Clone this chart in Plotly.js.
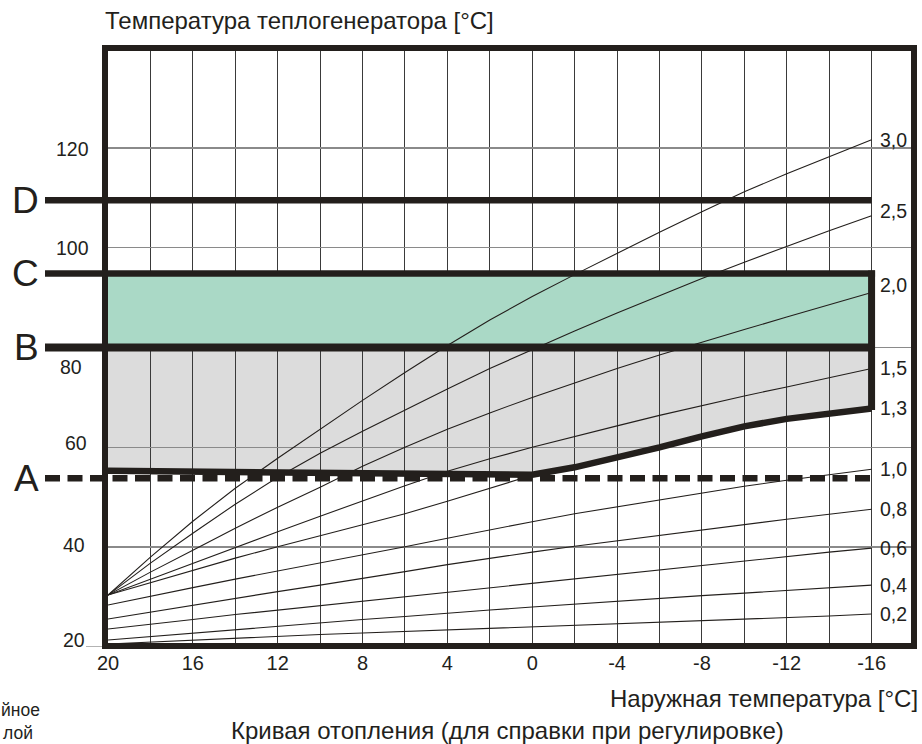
<!DOCTYPE html>
<html>
<head>
<meta charset="utf-8">
<script src="https://cdn.plot.ly/plotly-3.0.1.min.js"></script>
<style>html,body{margin:0;padding:0;background:#fff;}#chart{width:922px;height:744px;}</style>
</head>
<body>
<div id="chart"></div>
<script>
// ---------- data ----------
const outdoorT = [20,18,16,14,12,10,8,6,4,2,0,-2,-4,-6,-8,-10,-12,-14,-16];
const curveNames = ['3,0','2,5','2,0','1,5','1,3','1,0','0,8','0,6','0,4','0,2'];
const curve30 = [30.4,38,45.2,51.8,57.8,63.6,69.4,75,80.4,85.5,90.2,94.6,98.9,103.1,107.2,111.2,114.8,118.2,121.6];
const curve25 = [30.4,36.8,42.8,48.6,54,58.8,63.2,67.5,71.7,75.8,79.6,83.3,86.9,90.4,93.8,97.1,100.3,103.4,106.4];
const curve20 = [30.4,35,39.4,43.8,48,52,56.2,60,63.6,66.9,70,72.9,75.8,78.5,81.1,83.6,86.1,88.6,91];
const curve15 = [30.4,33.6,36.8,40,43.1,46.2,49.3,52.3,55.2,57.7,60,62.2,64.3,66.4,68.4,70.3,72.1,74,75.8];
const curve13 = [30.4,32.9,35.4,37.8,40.1,42.3,44.4,46.7,49.2,51.8,54.4,56,57.9,60,62.2,64.2,65.7,66.8,67.8];
const curve10 = [28.4,30.2,31.9,33.6,35.2,36.8,38.4,40.1,41.8,43.5,45.1,46.7,48.1,49.5,50.9,52.2,53.4,54.5,55.6];
const curve08 = [25.6,27,28.4,29.8,31.1,32.4,33.7,35.1,36.5,37.8,39,40.2,41.3,42.4,43.5,44.6,45.6,46.6,47.6];
const curve06 = [23.6,24.5,25.5,26.5,27.4,28.3,29.2,30.1,31,31.9,32.8,33.7,34.6,35.5,36.4,37.3,38.2,39,39.8];
const curve04 = [21.4,22.1,22.8,23.5,24.2,24.9,25.5,26.1,26.8,27.4,28,28.6,29.2,29.8,30.3,30.8,31.3,31.9,32.4];
const curve02 = [20.6,21,21.4,21.8,22.2,22.5,22.8,23.1,23.5,23.8,24.1,24.4,24.7,25,25.3,25.6,25.9,26.2,26.6];
const curves = [curve30,curve25,curve20,curve15,curve13,curve10,curve08,curve06,curve04,curve02];

const boundaryT = [20,0,-2,-4,-6,-8,-10,-12,-14,-16];
const boundaryV = [55.3,54.5,56,57.9,60,62.2,64.2,65.7,66.8,67.8];

const levelNames = ['A','B','C','D'];
const levelValues = [53.8,80,94.8,109.5];

const xTickVals = outdoorT;
const xTickText = ['20','','16','','12','','8','','4','','0','','-4','','-8','','-12','','-16'];
const yTickVals = [20,40,60,80,100,120];
const yTickText = ['20','40','60','80','100','120'];

const yTitle = 'Температура теплогенератора [°C]';
const xTitle = 'Наружная температура [°C]';
const caption = 'Кривая отопления (для справки при регулировке)';
const cutLeft1 = 'йное';
const cutLeft2 = 'лой';

// ---------- styling / layout ----------
const INK = '#231f1c';
const FONT = 'Liberation Sans, Arial, sans-serif';
const W = 922, H = 744, ML = 108, MR = 8, MT = 48, MB = 97;
const PW = W - ML - MR, PH = H - MT - MB;
const xRange = [20, -18], yRange = [20, 140];
const px = p => (p - ML) / PW;         // pixel -> paper x
const py = p => (H - MB - p) / PH;     // pixel -> paper y
const xToPaper = t => (xRange[0] - t) / (xRange[0] - xRange[1]);

const tFirst = outdoorT[0], tLast = outdoorT[outdoorT.length - 1];
const lv = {}; levelNames.forEach((n, i) => lv[n] = levelValues[i]);

const traces = [];
// green band B..C
traces.push({
  x: [tFirst, tLast, tLast, tFirst, tFirst],
  y: [lv.B, lv.B, lv.C, lv.C, lv.B],
  mode: 'lines', fill: 'toself', fillcolor: '#aad9c6',
  line: {width: 0, color: 'rgba(0,0,0,0)'}, hoverinfo: 'skip', showlegend: false
});
// heating curves
curves.forEach((c, i) => traces.push({
  x: outdoorT, y: c, mode: 'lines', name: curveNames[i],
  line: {color: INK, width: 1.1}, showlegend: false
}));
// thick lower boundary of grey zone
traces.push({
  x: boundaryT, y: boundaryV, mode: 'lines',
  line: {color: INK, width: 6.5}, showlegend: false
});

// grey zone path (below grid)
let greyPath = `M${tFirst},${lv.B} L${tLast},${lv.B}`;
for (let i = boundaryT.length - 1; i >= 0; i--) greyPath += ` L${boundaryT[i]},${boundaryV[i]}`;
greyPath += ' Z';

const shapes = [];
shapes.push({type: 'path', xref: 'x', yref: 'y', path: greyPath, fillcolor: '#dcdcdc',
  line: {width: 0}, layer: 'below'});

const levelStyle = {
  A: {w: 6.5, dash: '15px,7.5px', right: xToPaper(tLast)},
  B: {w: 8, dash: 'solid', right: xToPaper(tLast) + 2/PW},
  C: {w: 6.5, dash: 'solid', right: xToPaper(tLast) + 3.5/PW},
  D: {w: 6.5, dash: 'solid', right: xToPaper(tLast)}
};
levelNames.forEach(n => {
  const s = levelStyle[n];
  shapes.push({type: 'line', xref: 'paper', yref: 'y', x0: px(45), x1: s.right,
    y0: lv[n], y1: lv[n], line: {color: INK, width: s.w, dash: s.dash}, layer: 'above'});
});
// right side of green/grey box
shapes.push({type: 'line', xref: 'x', yref: 'y', x0: tLast, x1: tLast,
  y0: lv.C + 0.65, y1: boundaryV[boundaryV.length - 1] - 0.3,
  line: {color: INK, width: 7}, layer: 'above'});
// small tick beside "20"
shapes.push({type: 'line', xref: 'paper', yref: 'y', x0: px(86), x1: px(102),
  y0: yTickVals[0], y1: yTickVals[0], line: {color: '#8a8a8a', width: 1.3}, layer: 'above'});
// frame
shapes.push({type: 'rect', xref: 'paper', yref: 'paper', x0: px(105), x1: 1, y0: 1/PH, y1: 1,
  line: {color: INK, width: 6}, fillcolor: 'rgba(0,0,0,0)', layer: 'above'});

const annotations = [];
const txt = (text, x, y, xanchor, size, extra) => Object.assign({
  text, x, y, xref: 'paper', yref: 'paper', xanchor, yanchor: 'middle', showarrow: false,
  font: {family: FONT, size, color: INK}, borderpad: 0
}, extra || {});

annotations.push(txt(yTitle, px(104), py(20.5), 'left', 24));
annotations.push(txt(xTitle, px(919), py(698.5), 'right', 24));
annotations.push(txt(caption, px(230), py(731), 'left', 24));
annotations.push(txt(cutLeft1, px(0.5), py(710), 'left', 17.5));
annotations.push(txt(cutLeft2, px(2), py(732.5), 'left', 17.5));

// level letters
levelNames.forEach(n => annotations.push({
  text: n, xref: 'paper', yref: 'y', x: px(39.5), y: lv[n], xanchor: 'right', yanchor: 'middle',
  showarrow: false, borderpad: 0, font: {family: FONT, size: 37, color: INK}
}));

// y tick labels
const yLabelRight = {20: 86, 40: 86, 60: 88, 80: 83, 100: 90, 120: 90};
const yLabelShift = {20: 7, 40: 2, 60: 4, 80: -19, 100: 0, 120: -1};
yTickVals.forEach((v, i) => annotations.push({
  text: yTickText[i], xref: 'paper', yref: 'y', x: px(yLabelRight[v]), y: v,
  xanchor: 'right', yanchor: 'middle', yshift: yLabelShift[v], showarrow: false, borderpad: 0,
  font: {family: FONT, size: 19.5, color: INK}
}));

// curve labels at the right end
const curveLabelShift = {'2,5': 5, '2,0': 8};
curves.forEach((c, i) => annotations.push({
  text: curveNames[i], xref: 'x', yref: 'y', x: tLast, y: c[c.length - 1],
  xanchor: 'left', yanchor: 'middle', xshift: 7, yshift: curveLabelShift[curveNames[i]] || 0,
  showarrow: false, borderpad: 0, font: {family: FONT, size: 19.5, color: INK}
}));

const layout = {
  width: W, height: H,
  margin: {l: ML, r: MR, t: MT, b: MB, pad: 0},
  paper_bgcolor: '#ffffff', plot_bgcolor: '#ffffff',
  showlegend: false,
  xaxis: {
    range: xRange, autorange: false, tickmode: 'array', tickvals: xTickVals, ticktext: xTickText,
    showgrid: true, gridcolor: '#3a3a3a', gridwidth: 1, zeroline: false, showline: false,
    ticks: '', ticklabelstandoff: 2, tickfont: {family: FONT, size: 20, color: INK}, fixedrange: true
  },
  yaxis: {
    range: yRange, autorange: false, tickmode: 'array', tickvals: yTickVals,
    showgrid: true, gridcolor: '#8a8a8a', gridwidth: 1.6, zeroline: false, showline: false,
    showticklabels: false, ticks: '', fixedrange: true
  },
  shapes, annotations
};

Plotly.newPlot('chart', traces, layout, {staticPlot: true, displayModeBar: false});
</script>
</body>
</html>
